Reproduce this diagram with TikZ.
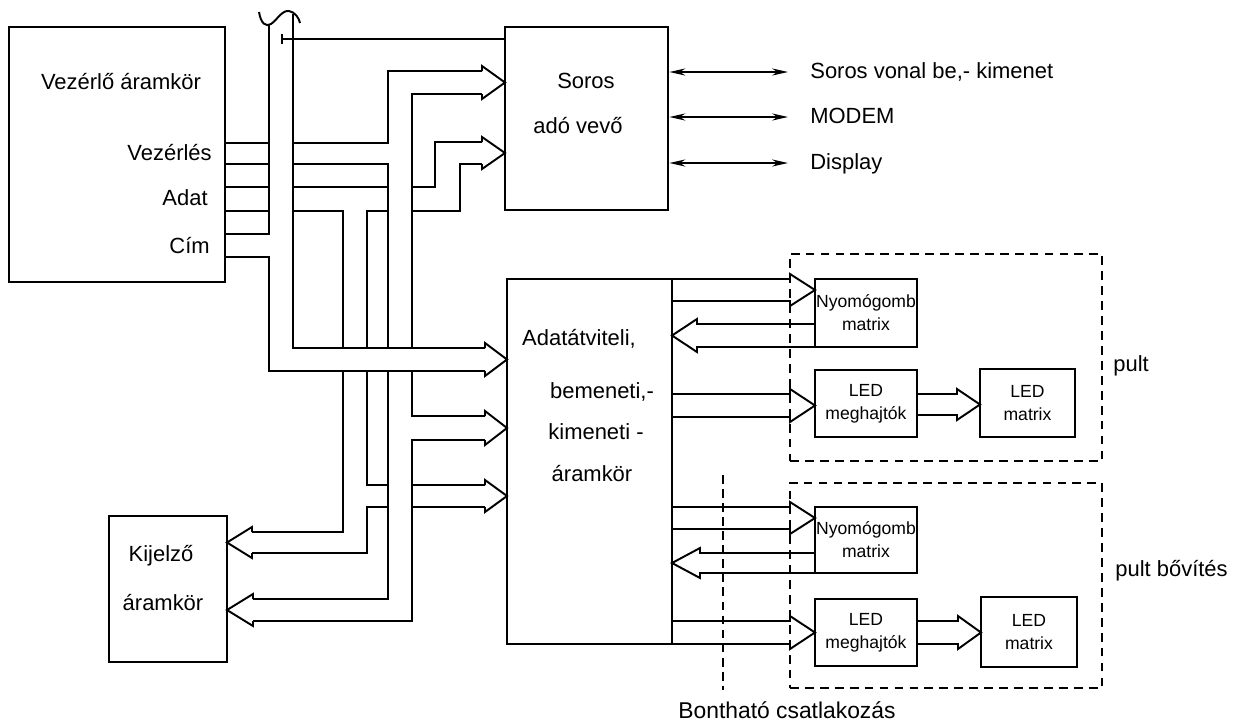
\documentclass[tikz,border=0pt]{standalone}
\usepackage{fontspec}
\setmainfont{Liberation Sans}
\usetikzlibrary{arrows.meta}
% hollow bus arrow head: base x, top y, bottom y, tip x
\newcommand{\bushead}[4]{\draw[bus] (#1,#2) -- (#1,#2-5) -- (#4,{(#2+#3)/2}) -- (#1,#3+5) -- (#1,#3);}
% straight bus arrow: from x, top y, bottom y, base x, tip x
\newcommand{\busarrow}[5]{\draw[bus] (#1,#2) -- (#4,#2) -- (#4,#2-5) -- (#5,{(#2+#3)/2}) -- (#4,#3+5) -- (#4,#3) -- (#1,#3);}

\begin{document}
\begin{tikzpicture}[x=0.02cm, y=-0.02cm,
  box/.style={draw, line width=1.6pt, inner sep=0pt},
  grp/.style={draw, line width=1.1pt, dash pattern=on 5pt off 3.5pt},
  bus/.style={line width=1.1pt, line join=miter},
  lbl/.style={font=\fontsize{12.5}{15}\selectfont, inner sep=0pt, text height=1.6ex, text depth=0.3ex},
  small/.style={font=\fontsize{10}{13}\selectfont, align=center},
  dbl/.style={{Stealth[length=9pt,width=4pt]}-{Stealth[length=9pt,width=4pt]}, line width=1.1pt}
]
  \useasboundingbox (0,0) rectangle (1248,724);

  \node[box, minimum width=4.32cm, minimum height=5.10cm] (ctrl) at (117,154.5) {};
  \node[box, minimum width=3.26cm, minimum height=3.66cm] (soros) at (586.5,118.5) {};
  \node[box, minimum width=2.36cm, minimum height=2.92cm] (kijelzo) at (168,589) {};
  \node[box, minimum width=3.30cm, minimum height=7.30cm] (io) at (589.5,461.5) {};

  \node[grp, minimum width=6.24cm, minimum height=4.14cm] (pult1) at (946,357.5) {};
  \node[grp, minimum width=6.24cm, minimum height=4.10cm] (pult2) at (946,585.5) {};

  \node[box, small, minimum width=2.04cm, minimum height=1.36cm] (nyomo1) at (866,313) {Nyomógomb\\matrix};
  \node[box, small, minimum width=2.04cm, minimum height=1.34cm] (ledh1) at (866,403.5) {LED\\meghajtók};
  \node[box, small, minimum width=1.90cm, minimum height=1.36cm] (ledm1) at (1027.5,403) {LED\\matrix};
  \node[box, small, minimum width=2.04cm, minimum height=1.32cm] (nyomo2) at (866,540) {Nyomógomb\\matrix};
  \node[box, small, minimum width=2.04cm, minimum height=1.34cm] (ledh2) at (866,632.5) {LED\\meghajtók};
  \node[box, small, minimum width=1.92cm, minimum height=1.40cm] (ledm2) at (1029,632) {LED\\matrix};

  \node[lbl] (t-ctrl) at (121,83) {Vezérlő áramkör};
  \node[lbl, anchor=east] (t-vez) at (212,154) {Vezérlés};
  \node[lbl, anchor=east] (t-adat) at (208,199) {Adat};
  \node[lbl, anchor=east] (t-cim) at (210,247) {Cím};
  \node[lbl] (t-soros) at (586,82) {Soros};
  \node[lbl] (t-adovevo) at (578,127) {adó vevő};
  \node[lbl] (t-kij1) at (161,555) {Kijelző};
  \node[lbl] (t-kij2) at (163,604) {áramkör};
  \node[lbl] (t-io1) at (579,339) {Adatátviteli,};
  \node[lbl] (t-io2) at (602,392) {bemeneti,-};
  \node[lbl] (t-io3) at (596,433) {kimeneti -};
  \node[lbl] (t-io4) at (592,475) {áramkör};
  \node[lbl, anchor=west] (t-pult1) at (1113,365) {pult};
  \node[lbl, anchor=west] (t-pult2) at (1115,570) {pult bővítés};
  \node[lbl, font=\fontsize{13}{15}\selectfont] (t-bont) at (787,712) {Bontható csatlakozás};

  % serial lines
  \node[lbl, anchor=west] (l-soros) at (810,72) {Soros vonal be,- kimenet};
  \node[lbl, anchor=west] (l-modem) at (810,117) {MODEM};
  \node[lbl, anchor=west] (l-disp) at (810,163) {Display};
  \draw[dbl] (soros.east |- l-soros) -- ([xshift=-0.44cm]l-soros.west);
  \draw[dbl] (soros.east |- l-modem) -- ([xshift=-0.44cm]l-modem.west);
  \draw[dbl] (soros.east |- l-disp) -- ([xshift=-0.44cm]l-disp.west);

  % Vezérlés bus
  \draw[bus] (ctrl.east |- 0,143) -- (269,143) (293,143) -- (388,143) -- (388,71) -- (482,71);
  \draw[bus] (ctrl.east |- 0,164) -- (269,164) (293,164) -- (388,164) -- (388,348) (388,371) -- (388,599) -- (253,599);
  \draw[bus] (482,94) -- (412,94) -- (412,348) (412,371) -- (412,416) -- (485,416)
    (485,440) -- (412,440) -- (412,621) -- (253,621);
  \bushead{482}{71}{94}{505}
  \bushead{485}{416}{440}{507}
  \bushead{253}{599}{621}{227}

  % Adat bus
  \draw[bus] (ctrl.east |- 0,187) -- (269,187) (293,187) -- (388,187) (412,187) -- (435,187) -- (435,142) -- (482,142);
  \draw[bus] (ctrl.east |- 0,211) -- (269,211) (293,211) -- (343,211) -- (343,348) (343,371) -- (343,532) -- (252,532);
  \draw[bus] (388,211) -- (367,211) -- (367,348) (367,371) -- (367,485) -- (388,485) (412,485) -- (485,485)
    (485,507) -- (412,507) (388,507) -- (367,507) -- (367,553) -- (252,553);
  \draw[bus] (412,211) -- (460,211) -- (460,164) -- (482,164);
  \bushead{482}{142}{164}{505}
  \bushead{485}{485}{507}{507}
  \bushead{252}{532}{553}{227}

  % Cím bus
  \draw[bus] (ctrl.east |- 0,234) -- (269,234) -- (269,25);
  \draw[bus] (ctrl.east |- 0,257) -- (269,257) -- (269,371) -- (485,371);
  \draw[bus] (293,14) -- (293,348) -- (485,348);
  \bushead{485}{348}{371}{507}
  \draw[bus] (259,12) .. controls (261,24) and (266,27) .. (271,24)
    .. controls (277,20) and (282,10) .. (289,11) .. controls (295,12) and (299,18) .. (300,23);
  \draw[bus] (282,34) -- (282,44) (282,39) -- (soros.west |- 0,39);

  % panel buses
  \busarrow{672}{279}{301}{790}{815}
  \busarrow{815}{324}{347}{697}{672}
  \busarrow{672}{394}{417}{790}{815}
  \busarrow{917}{394}{415}{957}{980}
  \busarrow{672}{507}{529}{790}{815}
  \busarrow{815}{553}{573}{700}{672}
  \busarrow{672}{621}{644}{790}{815}
  \busarrow{917}{621}{644}{958}{981}

  \draw[line width=0.8pt, dash pattern=on 5pt off 3pt] (723,475) -- (723,690);
\end{tikzpicture}
\end{document}
